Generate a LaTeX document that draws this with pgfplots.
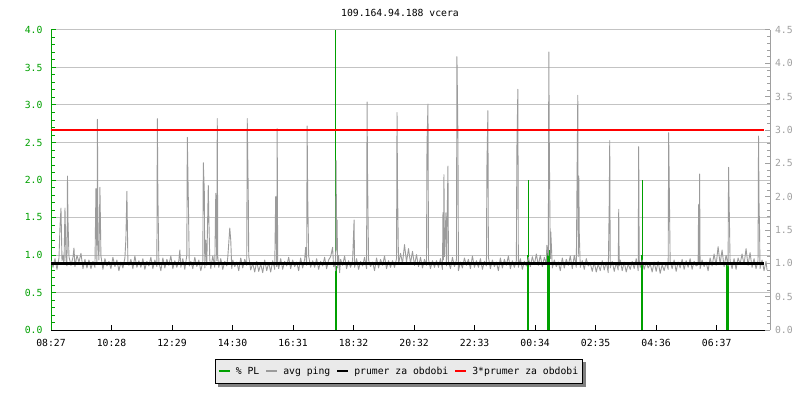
\documentclass[border=0pt]{standalone}
\usepackage{fontspec}
\setmainfont{DejaVu Sans Mono}
\usepackage{pgfplots}
\pgfplotsset{compat=1.18}
\pgfdeclarelayer{background}
\pgfsetlayers{background,main}
\definecolor{plgreen}{RGB}{0,160,0}
\definecolor{pinggray}{RGB}{155,155,155}
\definecolor{gridgray}{RGB}{195,195,195}
\definecolor{axgray}{RGB}{160,160,160}
\definecolor{legfill}{RGB}{234,234,234}
\newcommand{\chfont}{\fontsize{9.8}{11}\selectfont}
\begin{document}
\begin{tikzpicture}[x=1bp,y=1bp]
\path[use as bounding box] (0,0) rectangle (800,400);
% left axis: % PL
\begin{axis}[
  at={(51bp,70bp)}, anchor=south west,
  scale only axis, width=719bp, height=300bp,
  xmin=0, xmax=1440, ymin=0, ymax=4,
  axis x line*=bottom, axis y line*=left,
  x axis line style={-, black, line width=1bp},
  y axis line style={-, plgreen, line width=1bp},
  xtick={0,121.2,242.4,363.6,484.8,606,727.2,848.4,969.6,1090.8,1212,1333.2},
  xticklabels={08:27,10:28,12:29,14:30,16:31,18:32,20:32,22:33,00:34,02:35,04:36,06:37},
  xtick style={black, line width=1bp},
  ytick={0,0.5,1,1.5,2,2.5,3,3.5,4},
  minor y tick num=4,
  ytick style={plgreen, line width=1bp},
  minor y tick style={plgreen, line width=1bp},
  tick align=inside,
  major tick length=5bp, minor tick length=3.5bp,
  /pgf/number format/assume math mode=true,
  yticklabel style={plgreen, font=\chfont, xshift=-5bp, /pgf/number format/.cd, fixed, fixed zerofill, precision=1},
  xticklabel style={black, font=\chfont, yshift=-5.5bp},
  ymajorgrids, grid style={gridgray, line width=1bp},
  title={109.164.94.188 vcera},
  every axis title shift=0pt,
  title style={at={(axis description cs:0.4854,1.0557)}, anchor=center, font=\chfont},
]
\addplot[ycomb, plgreen, line width=1.2bp] coordinates {
(570,4.0)(572.5,0.86)(955,1.0)(956.7,2.0)(995.5,1.07)(998,1.07)(1182.5,1.0)(1184.7,2.0)(1354,0.87)(1356.5,0.87)};
\end{axis}
% right axis: ping
\begin{axis}[
  at={(51bp,70bp)}, anchor=south west,
  scale only axis, width=719bp, height=300bp,
  xmin=0, xmax=1440, ymin=0, ymax=4.5,
  axis x line=none, axis y line*=right,
  y axis line style={-, axgray, line width=1bp},
  ytick={0,0.5,1,1.5,2,2.5,3,3.5,4,4.5},
  minor y tick num=4,
  ytick style={axgray, line width=1bp},
  minor y tick style={axgray, line width=1bp},
  tick align=inside,
  major tick length=5bp, minor tick length=3.5bp,
  /pgf/number format/assume math mode=true,
  yticklabel style={axgray, font=\chfont, xshift=1.5bp, /pgf/number format/.cd, fixed, fixed zerofill, precision=1},
  legend columns=4,
  legend image code/.code={\draw[#1, line width=2bp] (0bp,0bp) -- (11bp,0bp);},
  legend style={name=leg, at={(axis description cs:0.484,-0.0967)}, anchor=north,
    fill=legfill, draw=black, line width=1bp, font=\chfont,
    inner xsep=2.5bp, inner ysep=5.5bp,
    /tikz/every odd column/.append style={column sep=3bp},
    /tikz/every even column/.append style={column sep=4bp}},
]
\addlegendimage{plgreen}
\addlegendentry{\% PL}
\addplot[pinggray, line width=0.9bp, line join=round] coordinates {
(0,1.04)(4,0.94)(8,1.07)(12,0.91)(16,1.08)(18,1.55)(20,1.83)(22,1.04)(24,1.12)(26,0.98)(28,1.83)(30,1.06)(32,0.96)(33,2.31)(34,1.65)(36,1.10)
(40,0.97)(44,1.09)(46,1.23)(48,0.95)(52,1.12)(56,1.02)(60,1.15)(64,0.92)(68,1.06)(72,0.93)(76,1.05)
(80,0.92)(84,1.03)(88,0.94)(90,2.12)(92,1.00)(93,3.16)(94,1.35)(96,1.05)(98,2.14)(100,1.11)(104,0.91)(108,1.07)(112,0.96)(116,1.03)
(120,0.92)(124,1.09)(128,0.95)(132,1.05)(136,0.89)(140,1.02)(144,0.93)(148,1.08)(150,1.37)(152,2.08)(154,1.02)(156,0.97)
(160,1.06)(164,0.92)(168,1.11)(172,0.94)(176,1.04)(180,0.94)(184,1.07)(188,0.91)(192,1.03)(196,0.96)
(200,1.09)(204,0.92)(208,1.05)(212,0.95)(213,3.17)(214,2.07)(216,1.02)(220,0.89)(224,1.08)(228,0.93)(232,1.06)(236,0.97)
(240,1.11)(244,0.92)(248,1.04)(252,0.94)(256,1.04)(258,1.20)(260,0.94)(264,1.07)(268,0.91)(272,1.12)(273,2.89)(275,1.98)(277,0.96)
(280,1.03)(284,0.92)(288,1.09)(292,0.95)(296,1.05)(300,0.89)(304,1.02)(305,2.51)(307,2.10)(308,0.93)(310,1.35)(312,0.97)(315,2.17)(316,1.72)(318,1.06)
(320,0.92)(324,1.11)(328,0.94)(330,2.05)(332,1.04)(333,3.17)(334,1.10)(336,0.94)(340,1.07)(344,0.91)(348,1.03)(352,0.96)(354,1.09)(356,1.30)(358,1.53)(360,1.35)(362,0.92)
(364,1.05)(368,0.95)(372,1.02)(376,0.89)(380,1.08)(384,0.93)(388,1.06)(392,0.97)(393,3.17)(395,2.08)(396,1.11)
(400,0.90)(404,1.00)(408,0.87)(412,1.03)(416,0.88)(420,0.99)(424,0.86)(428,1.05)(432,0.89)(436,1.01)
(440,0.87)(444,1.04)(448,0.91)(450,2.00)(452,0.95)(453,3.02)(454,1.00)(456,0.92)(460,1.07)(464,0.91)(468,1.03)(472,0.96)(476,1.09)
(480,0.92)(484,1.05)(488,0.95)(492,1.02)(496,0.89)(500,1.08)(504,0.93)(508,1.06)(510,1.24)(512,0.97)(513,3.06)(514,2.07)(516,1.11)
(520,0.94)(524,1.04)(528,0.94)(532,1.07)(536,0.91)(540,1.03)(544,0.96)(548,1.09)(552,0.92)(556,1.05)
(560,1.10)(564,1.24)(566,0.95)(568,1.02)(570,0.89)(571,2.54)(572,1.20)(573,1.65)(574,0.93)(576,1.12)(578,0.86)(580,1.06)(584,0.97)(588,1.11)(592,0.92)(596,1.04)
(600,0.94)(604,1.04)(607,1.65)(608,0.94)(612,1.07)(616,0.91)(620,1.03)(624,0.96)(628,1.09)(632,0.92)(633,3.42)(634,2.30)(636,1.05)
(640,0.95)(644,1.02)(648,0.89)(652,1.08)(656,0.93)(660,1.06)(664,0.97)(668,1.11)(672,0.92)(676,1.04)
(680,0.94)(684,1.04)(688,0.94)(692,1.07)(693,3.26)(694,2.14)(696,0.98)(700,1.15)(704,1.00)(708,1.28)(712,1.02)(716,1.22)
(720,1.00)(724,1.18)(728,0.97)(732,1.13)(736,0.95)(740,1.09)(744,0.93)(748,1.06)(752,0.97)(753,2.78)(755,3.39)(756,1.06)
(760,0.92)(764,1.04)(768,0.94)(772,1.04)(776,0.94)(780,1.07)(784,0.91)(785,1.76)(786,1.05)(787,2.33)(788,1.10)(791,1.76)(792,0.96)(795,2.46)(796,1.03)
(800,0.92)(804,1.09)(808,0.95)(812,1.05)(813,4.10)(815,2.89)(816,0.89)(820,1.02)(824,0.93)(828,1.08)(832,0.97)(836,1.06)
(840,0.92)(844,1.11)(848,0.94)(852,1.04)(856,0.94)(860,1.07)(864,0.91)(868,1.03)(872,0.96)(873,2.44)(875,3.29)(876,1.09)
(880,0.92)(884,1.05)(888,0.95)(892,1.02)(896,0.89)(900,1.08)(904,0.93)(908,1.06)(912,0.97)(916,1.11)
(920,0.92)(924,1.04)(928,0.94)(932,1.04)(933,2.70)(935,3.61)(936,0.94)(940,1.07)(944,0.91)(948,1.03)(952,0.96)(956,1.09)
(960,0.95)(964,1.10)(968,0.98)(972,1.14)(976,0.97)(980,1.12)(984,0.95)(988,1.09)(992,0.99)(993,1.27)(996,1.12)(997,4.17)(998,2.75)
(1000,1.07)(1001,1.47)(1004,0.93)(1008,1.05)(1012,0.95)(1016,1.02)(1020,0.89)(1024,1.08)(1028,0.93)(1032,1.06)(1036,0.97)
(1040,1.11)(1044,0.92)(1048,1.12)(1052,0.94)(1055,3.52)(1056,1.10)(1057,2.31)(1058,1.45)(1060,0.94)(1064,1.04)(1068,0.91)(1072,1.07)(1076,0.96)
(1080,1.00)(1084,0.88)(1088,1.02)(1092,0.87)(1096,0.99)(1100,0.89)(1104,1.04)(1108,0.90)(1112,1.02)(1116,0.86)
(1118,1.90)(1119,2.84)(1120,0.93)(1124,1.03)(1128,0.88)(1132,1.01)(1136,0.90)(1137,1.81)(1138,0.96)(1140,1.05)(1144,0.89)(1148,1.02)(1152,0.87)(1156,0.99)
(1160,0.91)(1164,1.03)(1168,0.92)(1172,1.07)(1176,0.89)(1177,2.75)(1178,1.05)(1180,0.94)(1184,1.05)(1188,0.91)(1192,1.02)(1196,0.93)
(1200,0.99)(1204,0.87)(1208,1.02)(1212,0.88)(1216,1.03)(1220,0.85)(1224,0.98)(1228,0.89)(1232,1.01)(1236,0.91)(1237,2.96)
(1240,1.03)(1244,0.92)(1248,1.05)(1252,0.88)(1256,1.02)(1260,0.93)(1264,1.06)(1268,0.91)(1272,1.04)(1276,0.94)
(1280,1.07)(1284,0.91)(1288,1.03)(1292,0.96)(1296,0.98)(1297,1.88)(1298,1.02)(1299,2.34)(1300,0.92)(1304,1.05)(1308,0.95)(1312,1.02)(1316,0.89)
(1320,1.08)(1324,0.96)(1328,1.14)(1332,0.97)(1336,1.25)(1340,0.99)(1344,1.20)(1348,0.95)(1352,1.12)(1356,0.96)(1357,2.44)
(1360,1.04)(1364,0.92)(1368,1.07)(1372,0.91)(1376,1.08)(1380,0.99)(1384,1.14)(1388,0.98)(1392,1.22)(1396,0.97)
(1400,1.16)(1404,0.94)(1408,1.07)(1412,0.92)(1416,1.04)(1417,2.91)(1418,1.91)(1419,1.53)(1420,0.92)(1424,1.05)(1428,0.89)(1432,1.03)(1434,0.90)
};
\addlegendentry{avg ping}
\addplot[black, line width=2.5bp] coordinates {(0,1.0) (1428,1.0)};
\addlegendentry{prumer za obdobi}
\addplot[red, line width=1.8bp] coordinates {(0,3.0) (1428,3.0)};
\addlegendentry{3*prumer za obdobi}
\end{axis}
\begin{pgfonlayer}{background}
\fill[gray] ([shift={(3bp,-3bp)}]leg.south west) rectangle ([shift={(3bp,-3bp)}]leg.north east);
\end{pgfonlayer}
\end{tikzpicture}
\end{document}
